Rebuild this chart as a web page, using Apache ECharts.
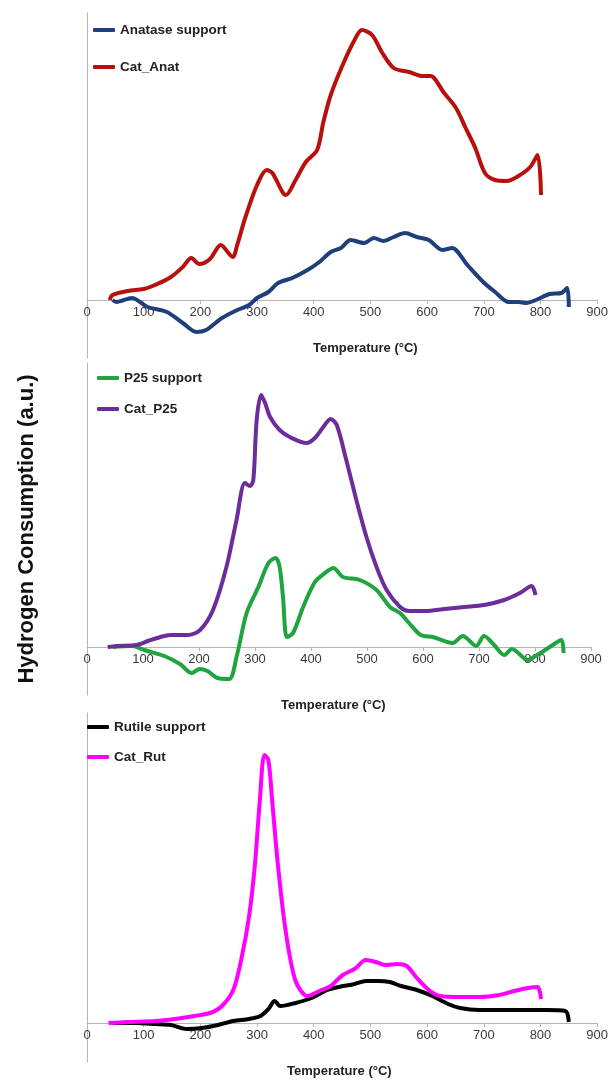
<html>
<head>
    <meta charset='utf-8' />
    <script src="https://cdn.jsdelivr.net/npm/echarts@6/dist/echarts.min.js"></script>
    <title>TPR profiles</title>
    <style>
        body { margin: 0; background: #fff; }
        #chart { width: 611px; height: 1080px; }
    </style>
</head>
<body>
    <div id="chart"></div>
    <script type="text/javascript">
        // temperature (°C) and hydrogen consumption (a.u.)
        var anatSupT = [45, 52, 79, 107, 141, 169, 193, 210, 238, 265, 286, 300, 320, 337, 362, 389, 410, 430, 448, 465, 489, 506, 523, 541, 561, 582, 603, 627, 644, 671, 699, 720, 744, 761, 775, 792, 816, 837, 847, 850];
        var anatSupV = [0, -2, 2, -7, -12, -23, -32, -30, -18, -10, -5, 2, 8, 17, 22, 30, 38, 48, 52, 60, 57, 62, 59, 63, 67, 63, 60, 50, 52, 35, 18, 8, -2, -2, -3, 0, 6, 7, 12, -7];
        var catAnatT = [40, 45, 72, 100, 120, 148, 169, 184, 198, 217, 236, 257, 265, 279, 300, 317, 327, 351, 368, 386, 406, 417, 430, 451, 472, 485, 503, 520, 541, 568, 592, 606, 630, 651, 668, 685, 702, 720, 740, 761, 782, 795, 801];
        var catAnatV = [0, 5, 9, 11, 15, 23, 33, 42, 36, 41, 55, 43, 55, 82, 115, 130, 127, 105, 120, 138, 150, 178, 205, 235, 260, 270, 265, 248, 232, 228, 224, 224, 207, 192, 172, 152, 127, 120, 119, 124, 133, 145, 105];

        var p25SupT = [46, 81, 102, 138, 166, 187, 201, 215, 233, 254, 267, 285, 306, 324, 337, 344, 350, 357, 368, 386, 407, 425, 440, 457, 487, 517, 541, 559, 575, 596, 618, 653, 671, 695, 709, 727, 745, 759, 787, 801, 829, 847, 851];
        var p25SupV = [0, 1, -3, -9, -17, -26, -22, -24, -31, -32, -10, 34, 60, 84, 89, 80, 50, 10, 14, 40, 65, 74, 79, 70, 67, 57, 40, 34, 24, 12, 10, 4, 11, 1, 11, 2, -8, -2, -13, -9, 1, 7, -6];
        var catP25T = [37, 53, 88, 109, 138, 152, 180, 202, 225, 249, 267, 282, 291, 297, 303, 311, 318, 327, 344, 362, 392, 407, 422, 435, 446, 463, 481, 499, 517, 535, 559, 575, 604, 639, 674, 709, 745, 773, 794, 801];
        var catP25V = [0, 1, 2, 6, 11, 12, 12, 17, 37, 80, 127, 164, 161, 167, 227, 252, 244, 230, 217, 210, 204, 209, 220, 228, 222, 187, 147, 110, 80, 57, 40, 36, 36, 38, 40, 42, 47, 54, 61, 52];

        var rutSupT = [45, 86, 121, 148, 176, 203, 231, 258, 286, 306, 320, 331, 341, 368, 396, 424, 444, 472, 492, 513, 534, 554, 582, 609, 637, 658, 692, 740, 775, 809, 844, 850];
        var rutSupV = [0, 0, -1, -2, -6, -5, -2, 2, 4, 7, 14, 22, 17, 20, 25, 33, 36, 39, 42, 42, 41, 37, 33, 27, 19, 15, 13, 13, 13, 13, 12, 1];
        var catRutT = [38, 72, 121, 155, 189, 217, 238, 258, 272, 286, 296, 305, 313, 320, 327, 337, 351, 368, 389, 410, 430, 451, 472, 492, 510, 527, 547, 564, 582, 603, 623, 658, 692, 727, 754, 778, 795, 801];
        var catRutV = [0, 1, 2, 4, 7, 10, 17, 33, 63, 107, 157, 223, 268, 263, 220, 157, 90, 42, 27, 32, 37, 48, 54, 63, 61, 58, 59, 57, 45, 33, 27, 26, 26, 28, 32, 35, 36, 24];

        var tempTicks = [0, 100, 200, 300, 400, 500, 600, 700, 800, 900];

        function zip(t, v) {
            var out = [];
            for (var i = 0; i < t.length; i++) {
                out.push([t[i], v[i]]);
            }
            return out;
        }

        var panels = [
            { top: 13, height: 345, right: 11, yMin: -58, yMax: 287, legendTop: 23, legendLeft: 93, gap: 23 },
            { top: 363, height: 332, right: 20, yMin: -48, yMax: 284, legendTop: 371, legendLeft: 97, gap: 17 },
            { top: 713, height: 349, right: 13, yMin: -39, yMax: 310, legendTop: 720, legendLeft: 87, gap: 16 }
        ];

        var seriesDefs = [
            { name: 'Anatase support', color: '#1f3e7c', data: zip(anatSupT, anatSupV), panel: 0 },
            { name: 'Cat_Anat', color: '#b8100c', data: zip(catAnatT, catAnatV), panel: 0 },
            { name: 'P25 support', color: '#1fa43f', data: zip(p25SupT, p25SupV), panel: 1 },
            { name: 'Cat_P25', color: '#6b2c9c', data: zip(catP25T, catP25V), panel: 1 },
            { name: 'Rutile support', color: '#000000', data: zip(rutSupT, rutSupV), panel: 2 },
            { name: 'Cat_Rut', color: '#ff00ff', data: zip(catRutT, catRutV), panel: 2 }
        ];

        var grids = [], xAxes = [], yAxes = [], legends = [], series = [];
        panels.forEach(function(p, i) {
            grids.push({ left: 87, right: p.right, top: p.top, height: p.height });
            xAxes.push({
                type: 'value',
                gridIndex: i,
                min: 0,
                max: 900,
                interval: 100,
                position: 'bottom',
                // lift the axis from the grid bottom up to the zero line
                offset: -Math.round(-p.yMin * p.height / (p.yMax - p.yMin)),
                axisLine: { onZero: false, lineStyle: { color: '#b5b5b5', width: 1 } },
                axisTick: { show: true, length: 4, lineStyle: { color: '#b5b5b5' } },
                axisLabel: {
                    color: '#3a3a3a',
                    fontFamily: 'Liberation Sans, Arial',
                    fontSize: 13,
                    margin: 6,
                    formatter: function(v) { return tempTicks.indexOf(v) >= 0 ? String(v) : ''; }
                },
                splitLine: { show: false }
            });
            yAxes.push({
                type: 'value',
                gridIndex: i,
                min: p.yMin,
                max: p.yMax,
                axisLine: { show: true, onZero: false, lineStyle: { color: '#b5b5b5', width: 1 } },
                axisTick: { show: false },
                axisLabel: { show: false },
                splitLine: { show: false }
            });
            var names = seriesDefs.filter(function(s) { return s.panel === i; }).map(function(s) { return s.name; });
            legends.push({
                data: names,
                orient: 'vertical',
                left: p.legendLeft,
                top: p.legendTop,
                padding: 0,
                itemGap: p.gap,
                itemWidth: 22,
                itemHeight: 4,
                itemTextGap: -4,
                icon: 'roundRect',
                selectedMode: false,
                textStyle: { fontFamily: 'Liberation Sans, Arial', fontWeight: 'bold', fontSize: 13.5, color: '#222' }
            });
        });

        seriesDefs.forEach(function(s) {
            series.push({
                name: s.name,
                type: 'line',
                xAxisIndex: s.panel,
                yAxisIndex: s.panel,
                data: s.data,
                showSymbol: false,
                smooth: 0.3,
                color: s.color,
                lineStyle: { color: s.color, width: 4 },
                animation: false
            });
        });

        var titleStyle = { fontFamily: 'Liberation Sans, Arial', fontWeight: 'bold', fontSize: 13, fill: '#222', textAlign: 'center', textVerticalAlign: 'middle' };
        var chart = echarts.init(document.getElementById('chart'));
        chart.setOption({
            animation: false,
            backgroundColor: '#fff',
            grid: grids,
            xAxis: xAxes,
            yAxis: yAxes,
            legend: legends,
            series: series,
            graphic: [
                { type: 'text', left: 313, top: 342, style: Object.assign({ text: 'Temperature (°C)' }, titleStyle) },
                { type: 'text', left: 281, top: 699, style: Object.assign({ text: 'Temperature (°C)' }, titleStyle) },
                { type: 'text', left: 287, top: 1065, style: Object.assign({ text: 'Temperature (°C)' }, titleStyle) },
                {
                    type: 'text',
                    x: 27,
                    y: 529,
                    rotation: Math.PI / 2,
                    style: { text: 'Hydrogen Consumption (a.u.)', fontFamily: 'Liberation Sans, Arial', fontWeight: 'bold', fontSize: 22, fill: '#111', textAlign: 'center', textVerticalAlign: 'middle' }
                }
            ]
        });
    </script>
</body>
</html>
